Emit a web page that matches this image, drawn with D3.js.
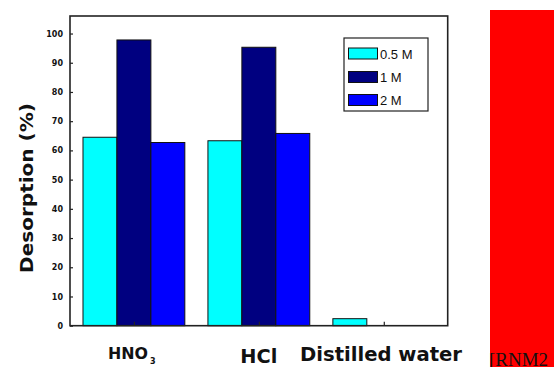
<!DOCTYPE html>
<html><head><meta charset="utf-8">
<script src="https://cdn.jsdelivr.net/npm/d3@7"></script>
<style>body{margin:0;background:#fff}svg{display:block}</style>
</head><body>
<script>
const categories = ["HNO3", "HCl", "Distilled water"];
const seriesNames = ["0.5 M", "1 M", "2 M"];
const series05 = [64.5, 63.3, 2.4];
const series1 = [97.8, 95.3, 0];
const series2 = [62.7, 65.8, 0];
const yTicks = [0, 10, 20, 30, 40, 50, 60, 70, 80, 90, 100];
const colors = ["#00ffff", "#000080", "#0000ff"];

const W = 554, H = 367;
const svg = d3.select("body").append("svg").attr("width", W).attr("height", H);
const L = 70, R = 447.7, T = 16, B = 325.7;

const x0 = d3.scaleBand().domain(categories).range([L, R]).paddingInner(0.185).paddingOuter(0.104);
const x1 = d3.scaleBand().domain(seriesNames).range([0, x0.bandwidth()]).padding(0);
const y = d3.scaleLinear().domain([0, 106]).range([B, T]);

const allSeries = [series05, series1, series2];
const rows = categories.map((c, i) => ({cat: c, vals: seriesNames.map((s, j) => ({s, v: allSeries[j][i], c: colors[j]}))}));

const g = svg.append("g");
g.selectAll("g.grp").data(rows).join("g").attr("class", "grp")
  .attr("transform", d => `translate(${x0(d.cat)},0)`)
  .selectAll("rect").data(d => d.vals.filter(v => v.v > 0)).join("rect")
  .attr("x", d => x1(d.s)).attr("width", x1.bandwidth())
  .attr("y", d => y(d.v)).attr("height", d => y(0) - y(d.v))
  .attr("fill", d => d.c).attr("stroke", "#111").attr("stroke-width", 1);

// frame
svg.append("rect").attr("x", L).attr("y", T).attr("width", R - L).attr("height", B - T)
  .attr("fill", "none").attr("stroke", "#222").attr("stroke-width", 1.6);

// y axis
const yAxis = d3.axisLeft(y).tickValues(yTicks).tickSizeInner(-3).tickSizeOuter(0).tickPadding(7);
const ya = svg.append("g").attr("transform", `translate(${L},0)`).call(yAxis);
ya.select(".domain").remove();
ya.selectAll("line").attr("stroke", "#222").attr("stroke-width", 1.2);
ya.selectAll("text").attr("font-family", "DejaVu Sans, sans-serif").attr("font-weight", "bold")
  .attr("font-size", 8).attr("fill", "#111");

// x axis ticks
const xa = svg.append("g").attr("transform", `translate(0,${B})`)
  .call(d3.axisBottom(d3.scalePoint().domain(categories).range([x0("HNO3") + x0.bandwidth()/2, x0("Distilled water") + x0.bandwidth()/2])).tickSizeInner(-4).tickSizeOuter(0).tickFormat(""));
xa.select(".domain").remove();
xa.selectAll("line").attr("stroke", "#222").attr("stroke-width", 1.2);

// x labels
const cx = c => x0(c) + x0.bandwidth() / 2;
const hno = svg.append("text").attr("x", 108).attr("y", 359).attr("font-family", "DejaVu Sans, sans-serif")
  .attr("font-weight", "bold").attr("font-size", 16).attr("fill", "#111");
hno.append("tspan").text("HNO").attr("textLength", 40).attr("lengthAdjust", "spacingAndGlyphs");
hno.append("tspan").text("3").attr("font-size", 8).attr("dx", 2).attr("dy", 5);
svg.append("text").attr("x", cx("HCl")).attr("y", 363).attr("text-anchor", "middle")
  .attr("font-family", "DejaVu Sans, sans-serif").attr("font-weight", "bold").attr("font-size", 20)
  .attr("textLength", 37).attr("lengthAdjust", "spacingAndGlyphs").attr("fill", "#111").text("HCl");
svg.append("text").attr("x", 300).attr("y", 361)
  .attr("font-family", "DejaVu Sans, sans-serif").attr("font-weight", "bold").attr("font-size", 20)
  .attr("textLength", 162).attr("lengthAdjust", "spacingAndGlyphs").attr("fill", "#111").text("Distilled water");

// y title
svg.append("text").attr("transform", "translate(33,188) rotate(-90)").attr("text-anchor", "middle")
  .attr("font-family", "DejaVu Sans, sans-serif").attr("font-weight", "bold").attr("font-size", 17)
  .attr("textLength", 170).attr("lengthAdjust", "spacingAndGlyphs").attr("fill", "#111").text("Desorption (%)");

// legend
const lg = svg.append("g");
lg.append("rect").attr("x", 344).attr("y", 38).attr("width", 84).attr("height", 73)
  .attr("fill", "#fff").attr("stroke", "#222").attr("stroke-width", 1.2);
const ly = [53.5, 77, 100];
seriesNames.forEach((s, i) => {
  lg.append("rect").attr("x", 348.5).attr("y", ly[i] - 5.5).attr("width", 29).attr("height", 11)
    .attr("fill", colors[i]).attr("stroke", "#111").attr("stroke-width", 1);
  lg.append("text").attr("x", 380).attr("y", ly[i] + 5).attr("font-family", "Liberation Sans, Arial, sans-serif")
    .attr("font-size", 13).attr("fill", "#111").text(s);
});

// red block and caption
svg.append("rect").attr("x", 490).attr("y", 10).attr("width", 64).attr("height", 357).attr("fill", "#ff0000");
svg.append("text").attr("x", 489).attr("y", 366).attr("font-family", "Liberation Serif, Times New Roman, serif")
  .attr("font-size", 19).attr("fill", "#111").text("[RNM2");
</script>
</body></html>
